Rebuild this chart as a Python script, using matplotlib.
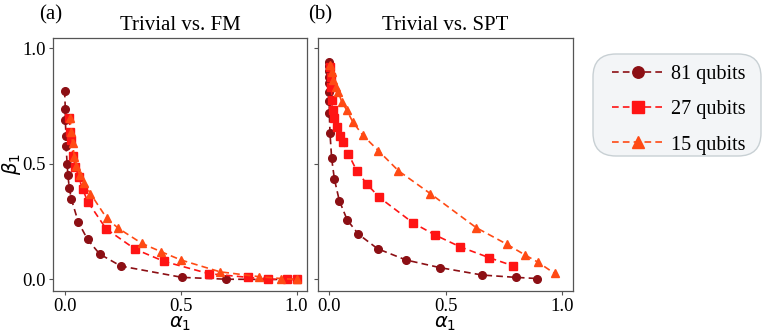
import matplotlib
matplotlib.use("Agg")
import matplotlib.pyplot as plt
from matplotlib.patches import FancyBboxPatch

plt.rcParams['font.family'] = ['Liberation Serif', 'DejaVu Serif']
plt.rcParams['mathtext.fontset'] = 'dejavusans'

labels = ["81 qubits", "27 qubits", "15 qubits"]
colors = ["#8c0f14", "#ff1414", "#ff4a14"]
markers = ["o", "s", "^"]

# (a) Trivial vs. FM
fm81_a = [0.0, 0.003, 0.003, 0.006, 0.006, 0.011, 0.014, 0.020, 0.029, 0.059, 0.099, 0.151, 0.242, 0.506, 0.697, 0.871, 0.96, 1.0]
fm81_b = [0.817, 0.736, 0.690, 0.620, 0.579, 0.499, 0.452, 0.397, 0.348, 0.248, 0.173, 0.110, 0.058, 0.009, 0.001, 0.0, 0.0, 0.0]
fm27_a = [0.020, 0.024, 0.029, 0.036, 0.046, 0.060, 0.078, 0.100, 0.179, 0.304, 0.429, 0.622, 0.791, 0.875, 0.960, 1.0]
fm27_b = [0.697, 0.639, 0.603, 0.534, 0.488, 0.444, 0.390, 0.336, 0.219, 0.131, 0.078, 0.025, 0.009, 0.001, 0.0, 0.0]
fm15_a = [0.024, 0.029, 0.034, 0.042, 0.050, 0.067, 0.085, 0.111, 0.182, 0.232, 0.333, 0.416, 0.502, 0.670, 0.838, 0.932, 1.0]
fm15_b = [0.700, 0.640, 0.590, 0.530, 0.490, 0.450, 0.416, 0.372, 0.264, 0.221, 0.156, 0.120, 0.084, 0.033, 0.012, 0.004, 0.0]

# (b) Trivial vs. SPT
spt81_a = [0.0, 0.0, 0.0, 0.0, 0.0, 0.0, 0.0, 0.0, 0.003, 0.010, 0.022, 0.043, 0.077, 0.125, 0.207, 0.330, 0.476, 0.657, 0.801, 0.892]
spt81_b = [0.942, 0.924, 0.903, 0.877, 0.849, 0.812, 0.773, 0.719, 0.632, 0.524, 0.433, 0.341, 0.257, 0.196, 0.133, 0.084, 0.051, 0.019, 0.009, 0.004]
spt27_a = [0.003, 0.006, 0.009, 0.011, 0.014, 0.022, 0.032, 0.046, 0.057, 0.082, 0.118, 0.161, 0.215, 0.359, 0.455, 0.562, 0.687, 0.789]
spt27_b = [0.921, 0.877, 0.831, 0.776, 0.733, 0.697, 0.661, 0.620, 0.596, 0.543, 0.470, 0.413, 0.355, 0.245, 0.192, 0.141, 0.094, 0.059]
spt15_a = [0.003, 0.010, 0.017, 0.029, 0.039, 0.053, 0.075, 0.100, 0.143, 0.211, 0.297, 0.433, 0.631, 0.763, 0.842, 0.897, 0.967]
spt15_b = [0.928, 0.899, 0.863, 0.834, 0.812, 0.769, 0.733, 0.683, 0.625, 0.557, 0.470, 0.372, 0.224, 0.152, 0.105, 0.074, 0.026]

W, H = 764, 332
fig = plt.figure(figsize=(W / 100, H / 100), dpi=100)
ax1 = fig.add_axes([0.0694, 0.1235, 0.3325, 0.762])
ax2 = fig.add_axes([0.4158, 0.1235, 0.3338, 0.762])

panels = [
	(ax1, [(fm81_a, fm81_b), (fm27_a, fm27_b), (fm15_a, fm15_b)], "Trivial vs. FM"),
	(ax2, [(spt81_a, spt81_b), (spt27_a, spt27_b), (spt15_a, spt15_b)], "Trivial vs. SPT"),
]

handles = []
for ax, series, title in panels:
	for (xs, ys), c, m, lab in zip(series, colors, markers, labels):
		h, = ax.plot(xs, ys, linestyle="--", color=c, marker=m, markersize=5.5,
			linewidth=1.2, label=lab, dashes=(4, 2.5))
		if ax is ax1:
			handles.append(h)
	ax.set_xlim(-0.05, 1.045)
	ax.set_ylim(-0.05, 1.045)
	ax.set_xticks([0, 0.5, 1.0])
	ax.set_xticklabels(["0.0", "0.5", "1.0"])
	ax.set_yticks([0, 0.5, 1.0])
	ax.set_title(title, fontsize=15, pad=6)
	ax.set_xlabel(r"$\alpha_1$", fontsize=14, labelpad=0)
	ax.tick_params(labelsize=13.5, length=3, color="#555555", pad=2)
	for sp in ax.spines.values():
		sp.set_color("#555555")
		sp.set_linewidth(0.9)

ax1.set_yticklabels(["0.0", "0.5", "1.0"])
ax2.set_yticklabels([])
ax1.set_ylabel(r"$\beta_1$", fontsize=14, labelpad=0)

fig.text(39 / W, 0.94, "(a)", fontsize=15)
fig.text(308 / W, 0.94, "(b)", fontsize=15)

# legend box drawn by hand so the side padding can differ from the top
box = FancyBboxPatch((593 / W, 1 - 156 / H), 168 / W, 102 / H,
	boxstyle="round,pad=0,rounding_size=0.03", transform=fig.transFigure,
	facecolor="#f3f5f7", edgecolor="#c8d0d4", linewidth=1.0, mutation_aspect=W / H)
fig.add_artist(box)

leg = fig.legend(handles=handles, loc="upper left", bbox_to_anchor=(612 / W, 1 - 65 / H),
	fontsize=14.5, markerscale=1.5, handlelength=2.6, labelspacing=0.8,
	borderaxespad=0, borderpad=0, frameon=False, handletextpad=0.35)

fig.savefig("out.png", dpi=100)
